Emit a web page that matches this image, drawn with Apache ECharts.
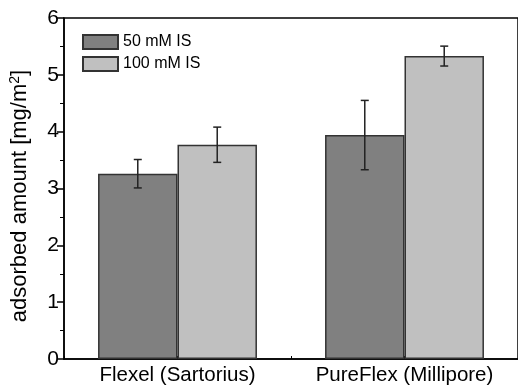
<!DOCTYPE html>
<html>
<head>
<meta charset="utf-8">
<script src="https://cdn.jsdelivr.net/npm/echarts@6/dist/echarts.min.js"></script>
<style>html,body{margin:0;padding:0;background:#fff}#c{width:518px;height:387px}</style>
</head>
<body>
<div id="c"></div>
<script>
var categories = ['Flexel (Sartorius)', 'PureFlex (Millipore)'];
var seriesNames = ['50 mM IS', '100 mM IS'];
var values50 = [3.26, 3.94];
var errors50 = [0.25, 0.61];
var values100 = [3.77, 5.33];
var errors100 = [0.31, 0.175];
var yTicks = [0, 1, 2, 3, 4, 5, 6];

var FONT = 'Liberation Sans, Arial, sans-serif';
var chart = echarts.init(document.getElementById('c'));
var BAR_FRAC = 0.35;

function errSeries(vals, errs, side) {
  var data = vals.map(function (v, i) { return [i, v, errs[i]]; });
  return {
    type: 'custom',
    xAxisIndex: 0,
    z: 5,
    silent: true,
    renderItem: function (params, api) {
      var i = api.value(0), v = api.value(1), e = api.value(2);
      var catW = api.size([1, 0])[0];
      var off = side * catW * BAR_FRAC / 2;
      var top = api.coord([i, v + e]);
      var bot = api.coord([i, v - e]);
      var x = top[0] + off;
      var cap = 4;
      var st = { stroke: '#222', lineWidth: 1.5 };
      return {
        type: 'group',
        children: [
          { type: 'line', shape: { x1: x, y1: top[1], x2: x, y2: bot[1] }, style: st },
          { type: 'line', shape: { x1: x - cap, y1: top[1], x2: x + cap, y2: top[1] }, style: st },
          { type: 'line', shape: { x1: x - cap, y1: bot[1], x2: x + cap, y2: bot[1] }, style: st }
        ]
      };
    },
    data: data
  };
}

chart.setOption({
  animation: false,
  grid: { left: 63, right: -3, top: 18, bottom: 28, show: true, borderColor: '#000', borderWidth: 1.5, backgroundColor: 'transparent' },
  legend: {
    left: 77, top: 29, orient: 'vertical', itemWidth: 35, itemHeight: 14, itemGap: 6, icon: 'rect',
    textStyle: { fontFamily: FONT, fontSize: 16, color: '#000' },
    data: seriesNames
  },
  xAxis: [
    {
      type: 'category', data: categories, boundaryGap: true,
      axisLine: { lineStyle: { color: '#000', width: 1.5 } },
      axisTick: { show: false },
      axisLabel: { fontFamily: FONT, fontSize: 20.5, color: '#000', margin: 6, interval: 0, hideOverlap: false }
    },
    {
      type: 'value', min: 0.5, max: 2.5, interval: 0.25, position: 'bottom',
      axisLine: { show: false }, splitLine: { show: false },
      axisTick: { show: true, inside: true, length: 3, lineStyle: { color: '#000', width: 1 } },
      axisLabel: { show: false }
    }
  ],
  yAxis: {
    type: 'value', min: 0, max: 6, interval: 1,
    name: 'adsorbed amount [mg/m{sup|2}]',
    nameLocation: 'middle', nameRotate: 90, nameGap: 32,
    nameTextStyle: {
      fontFamily: FONT, fontSize: 22, color: '#000', padding: [0, 15, 0, 0],
      rich: { sup: { fontFamily: FONT, fontSize: 14, color: '#000', verticalAlign: 'top', padding: [0, 0, 10, 0] } }
    },
    axisLine: { show: true, lineStyle: { color: '#000', width: 1.5 } },
    axisTick: { show: true, length: 7, lineStyle: { color: '#000', width: 1.5 } },
    minorTick: { show: true, splitNumber: 2, length: 4, lineStyle: { color: '#000', width: 1 } },
    splitLine: { show: false },
    axisLabel: {
      fontFamily: FONT, fontSize: 21, color: '#000', margin: 5,
      formatter: function (v) { return yTicks.indexOf(v) >= 0 ? String(v) : ''; }
    }
  },
  series: [
    {
      name: seriesNames[0], type: 'bar', data: values50, barWidth: (BAR_FRAC * 100) + '%', barGap: '0%',
      itemStyle: { color: '#808080', borderColor: '#333', borderWidth: 1.5 }
    },
    {
      name: seriesNames[1], type: 'bar', data: values100, barWidth: (BAR_FRAC * 100) + '%', barGap: '0%',
      itemStyle: { color: '#c0c0c0', borderColor: '#333', borderWidth: 1.5 }
    },
    errSeries(values50, errors50, -1),
    errSeries(values100, errors100, 1)
  ]
});
</script>
</body>
</html>
